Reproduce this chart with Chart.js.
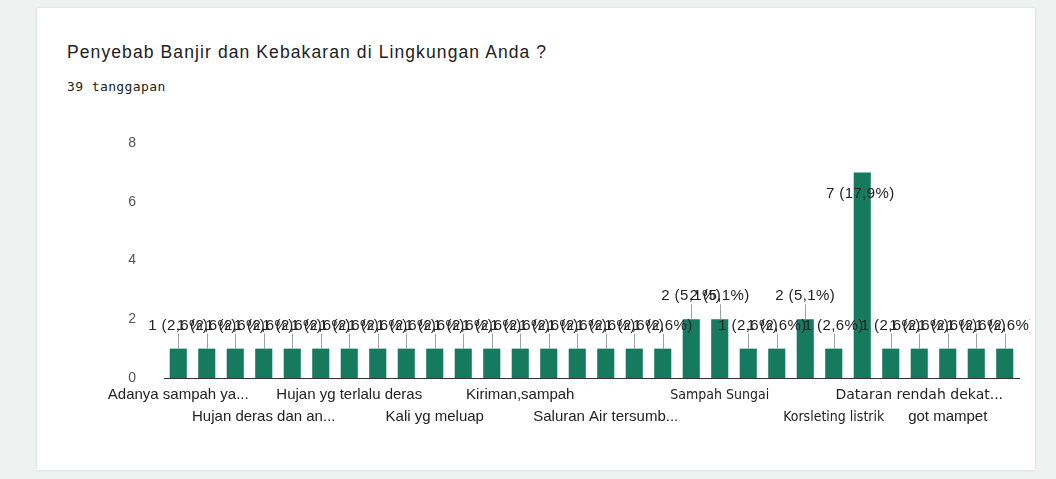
<!DOCTYPE html>
<html>
<head>
<meta charset="utf-8">
<script src="https://cdn.jsdelivr.net/npm/chart.js@4.4.1/dist/chart.umd.min.js"></script>
<style>
    body { margin: 0; background: #eef2f1; width: 1056px; height: 479px; overflow: hidden; position: relative; font-family: "Liberation Sans", Arial, sans-serif; }
    .card { position: absolute; left: 37px; top: 8px; width: 998px; height: 462px; background: #fff; box-shadow: 0 0 3px rgba(0,0,0,0.12); }
    .title { position: absolute; left: 67px; top: 42px; font-size: 17.5px; letter-spacing: 1.1px; color: #202124; }
    .sub { position: absolute; left: 67px; top: 79px; font-family: "DejaVu Sans Mono", monospace; font-size: 13px; color: #222; letter-spacing: 0.4px; }
    .wrap { position: absolute; left: 100px; top: 120px; width: 930px; height: 320px; }
</style>
</head>
<body>
<div class="card"></div>
<div class="title">Penyebab Banjir dan Kebakaran di Lingkungan Anda ?</div>
<div class="sub">39 tanggapan</div>
<div class="wrap"><canvas id="chart"></canvas></div>
<script>
// only the names visible in the picture are known; the rest are left blank
const categories = [
    'Adanya sampah ya...', '', '', 'Hujan deras dan an...', '', '',
    'Hujan yg terlalu deras', '', '', 'Kali yg meluap', '', '',
    'Kiriman,sampah', '', '', 'Saluran Air tersumb...', '', '',
    '', 'Sampah Sungai', '', '', '', 'Korsleting listrik',
    '', '', 'Dataran rendah dekat...', 'got mampet', '', ''
];
const counts = [
    1, 1, 1, 1, 1, 1, 1, 1, 1, 1, 1, 1, 1, 1, 1,
    1, 1, 1, 2, 2, 1, 1, 2, 1, 7, 1, 1, 1, 1, 1
];
const totalResponses = 39;
const yTicks = [0, 2, 4, 6, 8];
const lowerRow = [3, 9, 15, 23, 27];

function pct(v) {
    return (v / totalResponses * 100).toFixed(1).replace('.', ',') + '%';
}

function tickFont(i) {
    // a few labels in the picture are set in a narrower face
    const narrow = '"DejaVu Sans Condensed", "Liberation Sans Narrow", "DejaVu Sans", sans-serif';
    if (i === 19 || i === 23) return { size: 14, lineHeight: '22px', family: narrow };
    if (i === 26) return { size: 14, lineHeight: '22px', family: '"DejaVu Sans", sans-serif' };
    return { size: 15, lineHeight: '22px', family: '"Liberation Sans", Arial, sans-serif' };
}

const barLabels = {
    id: 'barLabels',
    afterDatasetsDraw(chart) {
        const ctx = chart.ctx;
        const meta = chart.getDatasetMeta(0);
        ctx.save();
        ctx.font = '15px "Liberation Sans", Arial, sans-serif';
        if ('letterSpacing' in ctx) ctx.letterSpacing = '0.4px';
        ctx.textAlign = 'center';
        ctx.textBaseline = 'middle';
        meta.data.forEach((bar, i) => {
            const v = counts[i];
            const txt = v + ' (' + pct(v) + ')';
            if (v >= 6) {
                ctx.fillStyle = '#222';
                ctx.fillText(txt, bar.x - 2, bar.y + 21);
                return;
            }
            const ly = bar.y - 23;
            ctx.strokeStyle = '#9aa0a6';
            ctx.lineWidth = 1;
            ctx.beginPath();
            ctx.moveTo(Math.round(bar.x) + 0.5, bar.y);
            ctx.lineTo(Math.round(bar.x) + 0.5, ly + 8);
            ctx.stroke();
            ctx.fillStyle = '#222';
            ctx.fillText(txt, bar.x, ly);
        });
        ctx.restore();
    }
};

new Chart(document.getElementById('chart'), {
    type: 'bar',
    data: {
        labels: categories,
        datasets: [{
            data: counts,
            backgroundColor: '#167a5e',
            barPercentage: 0.6,
            categoryPercentage: 1
        }]
    },
    options: {
        responsive: true,
        maintainAspectRatio: false,
        animation: false,
        layout: { padding: { top: 23, right: 11, left: 0, bottom: 0 } },
        plugins: { legend: { display: false }, tooltip: { enabled: false } },
        scales: {
            x: {
                grid: { display: false, drawTicks: false },
                border: { display: true, color: '#333', width: 1 },
                afterFit(s) { s.height = 62; s.paddingLeft = 0; s.paddingRight = 0; },
                ticks: {
                    autoSkip: false,
                    maxRotation: 0,
                    padding: 6,
                    color: '#222',
                    font: (c) => tickFont(c.index),
                    callback: (v, i) => lowerRow.includes(i) ? ['', categories[i]] : categories[i]
                }
            },
            y: {
                min: 0,
                max: 8,
                grid: { display: false, drawTicks: false },
                border: { display: false },
                afterFit(s) { s.width = 64; s.paddingTop = 0; s.paddingBottom = 0; },
                afterBuildTicks(s) { s.ticks = yTicks.map(v => ({ value: v })); },
                ticks: {
                    padding: 28,
                    color: '#555',
                    font: { size: 14, family: '"Liberation Sans", Arial, sans-serif' }
                }
            }
        }
    },
    plugins: [barLabels]
});
</script>
</body>
</html>
